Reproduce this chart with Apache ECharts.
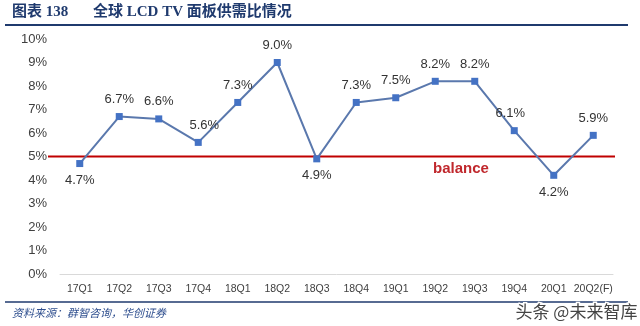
<!DOCTYPE html>
<html>
<head>
<meta charset="utf-8">
<script src="https://cdn.jsdelivr.net/npm/echarts@6/dist/echarts.min.js"></script>
<style>
  html, body { margin: 0; padding: 0; background: #fff; }
  #chart { width: 640px; height: 326px; }
</style>
</head>
<body>
<div id="chart"></div>
<script>
// Quarterly supply/demand ratio of global LCD TV panels (%)
const quarters = ['17Q1', '17Q2', '17Q3', '17Q4', '18Q1', '18Q2', '18Q3', '18Q4',
                  '19Q1', '19Q2', '19Q3', '19Q4', '20Q1', '20Q2(F)'];
const ratio = [4.7, 6.7, 6.6, 5.6, 7.3, 9.0, 4.9, 7.3, 7.5, 8.2, 8.2, 6.1, 4.2, 5.9];
// label placement per point
const labelPos = ['bottom', 'top', 'top', 'top', 'top', 'top', 'bottom', 'top',
                  'top', 'top', 'top', 'top', 'bottom', 'top'];
const balanceLevel = 5;
const yTicks = { min: 0, max: 10, interval: 1 };

const chart = echarts.init(document.getElementById('chart'), null, { renderer: 'canvas' });

const pointData = ratio.map((v, i) => {
  const item = { value: v, label: { position: labelPos[i] } };
  if (i === 3) item.label.offset = [6, 0];
  if (i === 11) item.label.offset = [-4, 0];
  return item;
});

chart.setOption({
  animation: false,
  backgroundColor: '#ffffff',
  grid: [
    { left: 60, right: 27, top: 39, bottom: 52 },
    { left: 48, right: 25, top: 39, bottom: 52 }
  ],
  xAxis: [
    {
      type: 'category', gridIndex: 0, data: quarters, boundaryGap: true,
      axisLine: { lineStyle: { color: '#d9d9d9', width: 1 } },
      axisTick: { show: false },
      axisLabel: { interval: 0, color: '#404040', fontSize: 10.5, fontFamily: 'Liberation Sans, Arial', margin: 10 }
    },
    { type: 'value', gridIndex: 1, min: 0, max: 1, show: false }
  ],
  yAxis: [
    {
      type: 'value', gridIndex: 0, min: yTicks.min, max: yTicks.max, interval: yTicks.interval,
      axisLine: { show: false }, axisTick: { show: false }, splitLine: { show: false },
      axisLabel: { color: '#404040', fontSize: 13, fontFamily: 'Liberation Sans, Arial', margin: 13,
                   formatter: v => v + '%' }
    },
    { type: 'value', gridIndex: 1, min: yTicks.min, max: yTicks.max, show: false }
  ],
  series: [
    {
      name: 'balance', type: 'line', xAxisIndex: 1, yAxisIndex: 1,
      data: [[0, balanceLevel], [1, balanceLevel]],
      symbol: 'none', silent: true,
      lineStyle: { color: '#c00000', width: 2 },
      z: 1
    },
    {
      name: 'ratio', type: 'line', xAxisIndex: 0, yAxisIndex: 0,
      data: pointData,
      symbol: 'rect', symbolSize: 7,
      itemStyle: { color: '#4472c4' },
      lineStyle: { color: '#5a78ad', width: 2 },
      label: {
        show: true, color: '#333333', fontSize: 13, fontFamily: 'Liberation Sans, Arial',
        distance: 7,
        formatter: p => p.value.toFixed(1) + '%'
      },
      z: 3
    }
  ],
  graphic: [
    { type: 'text', left: 12, top: 5,
      style: { text: '图表 138', fontSize: 15, fontWeight: 'bold',
               fontFamily: '"Liberation Serif", "Noto Sans CJK SC"', fill: '#1f3a6e' } },
    { type: 'text', left: 93, top: 5,
      style: { text: '全球 LCD TV 面板供需比情况', fontSize: 15, fontWeight: 'bold',
               fontFamily: '"Liberation Serif", "Noto Sans CJK SC"', fill: '#1f3a6e' } },
    { type: 'line', shape: { x1: 5, y1: 25, x2: 628, y2: 25 },
      style: { stroke: '#1f3a6e', lineWidth: 2 } },
    { type: 'line', shape: { x1: 5, y1: 302, x2: 628, y2: 302 },
      style: { stroke: '#1f3a6e', lineWidth: 1.5 } },
    { type: 'text', left: 12, top: 307,
      style: { text: '资料来源：群智咨询，华创证券', fontSize: 11, fontStyle: 'italic',
               fontFamily: '"Noto Sans CJK SC"', fill: '#2f4f8f' } },
    { type: 'text', left: 433, top: 161,
      style: { text: 'balance', fontSize: 15, fontWeight: 'bold',
               fontFamily: '"Liberation Sans", Arial', fill: '#c0282d' } },
    { type: 'text', left: 514, top: 302,
      style: { text: '头条 @未来智库', fontSize: 17,
               fontFamily: '"Noto Sans CJK SC"', fill: '#444444',
               stroke: '#ffffff', lineWidth: 3 } }
  ]
});
</script>
</body>
</html>
